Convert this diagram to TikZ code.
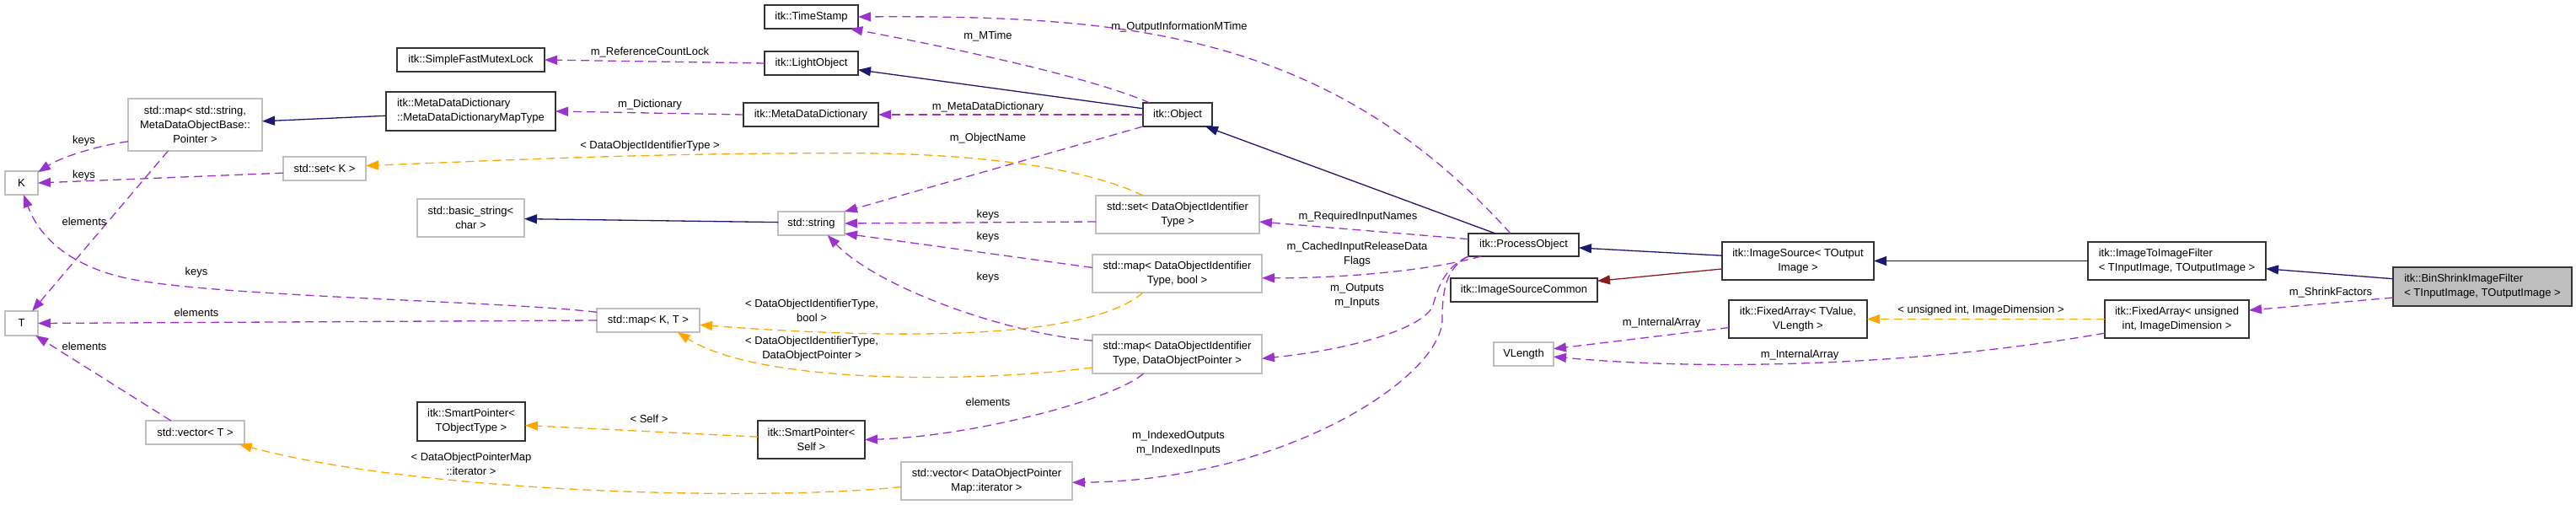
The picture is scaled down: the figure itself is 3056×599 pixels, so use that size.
\documentclass[tikz,border=0pt]{standalone}
\usepackage{fontspec}
\setmainfont{Liberation Sans}
\usetikzlibrary{arrows.meta}

\definecolor{inhblue}{HTML}{191970}
\definecolor{usepurple}{HTML}{9A32CD}
\definecolor{tplorange}{HTML}{FFA500}
\definecolor{privred}{HTML}{8B1A1A}
\definecolor{boxgray}{HTML}{BFBFBF}

\begin{document}
\begin{tikzpicture}[x=1pt, y=-1pt,
	every node/.style={font=\fontsize{13pt}{17pt}\selectfont, inner sep=0pt, outer sep=0pt},
	cls/.style={draw=black!80, line width=1.3pt, fill=white, align=center},
	ext/.style={cls, draw=boxgray},
	inh/.style={draw=inhblue, line width=1.3pt, -{Triangle[length=15pt, width=11pt]}},
	priv/.style={inh, draw=privred},
	use/.style={draw=usepurple, line width=1.3pt, dash pattern=on 10pt off 6pt, -{Triangle[length=15pt, width=11pt]}},
	tpl/.style={use, draw=tplorange}]
	\useasboundingbox (0,0) rectangle (3056,599);
	% classes
	\node[cls, minimum width=111pt, minimum height=28pt] (ts) at (962.5,20) {itk::TimeStamp};
	\node[cls, minimum width=175pt, minimum height=28pt] (sfml) at (558.5,71) {itk::SimpleFastMutexLock};
	\node[cls, minimum width=111pt, minimum height=28pt] (lo) at (962.5,75) {itk::LightObject};
	\node[ext, minimum width=159pt, minimum height=62pt] (mstr) at (231.5,148) {std::map< std::string,\\ MetaDataObjectBase::\\Pointer >};
	\node[cls, align=left, minimum width=201pt, minimum height=46pt] (mdmt) at (558.5,132) {itk::MetaDataDictionary\\::MetaDataDictionaryMapType};
	\node[cls, minimum width=160pt, minimum height=28pt] (mdd) at (962,136) {itk::MetaDataDictionary};
	\node[cls, minimum width=82pt, minimum height=28pt] (obj) at (1397,136) {itk::Object};
	\node[ext, minimum width=39pt, minimum height=28pt] (k) at (25.5,217) {K};
	\node[ext, minimum width=98pt, minimum height=28pt] (setk) at (385,200) {std::set< K >};
	\node[ext, minimum width=127pt, minimum height=45pt] (bstr) at (558.5,258.5) {std::basic\_string<\\char >};
	\node[ext, minimum width=79pt, minimum height=28pt] (str) at (962.5,265) {std::string};
	\node[ext, minimum width=194pt, minimum height=45pt] (setid) at (1397,254.5) {std::set< DataObjectIdentifier\\Type >};
	\node[ext, minimum width=201pt, minimum height=45pt] (mapbool) at (1396.5,324.5) {std::map< DataObjectIdentifier\\Type, bool >};
	\node[cls, minimum width=131pt, minimum height=27pt] (po) at (1807.5,290.5) {itk::ProcessObject};
	\node[cls, minimum width=174pt, minimum height=28pt] (isc) at (1808,344) {itk::ImageSourceCommon};
	\node[cls, minimum width=180pt, minimum height=45pt] (isrc) at (2133,309.5) {itk::ImageSource< TOutput\\Image >};
	\node[cls, align=left, minimum width=211pt, minimum height=45pt] (i2i) at (2582.5,309.5) {itk::ImageToImageFilter\\< TInputImage, TOutputImage >};
	\node[cls, align=left, fill=boxgray, minimum width=212pt, minimum height=46pt] (bsif) at (2945,340) {itk::BinShrinkImageFilter\\< TInputImage, TOutputImage >};
	\node[ext, minimum width=39pt, minimum height=29pt] (t) at (25.5,383.5) {T};
	\node[ext, minimum width=122pt, minimum height=28pt] (mapkt) at (769,380) {std::map< K, T >};
	\node[cls, minimum width=164pt, minimum height=45pt] (favl) at (2133,378.5) {itk::FixedArray< TValue,\\VLength >};
	\node[ext, minimum width=71pt, minimum height=28pt] (vlen) at (1807.5,420) {VLength};
	\node[cls, minimum width=171pt, minimum height=45pt] (fadim) at (2582.5,378.5) {itk::FixedArray< unsigned\\int, ImageDimension >};
	\node[ext, minimum width=201pt, minimum height=46pt] (mapptr) at (1396.5,420) {std::map< DataObjectIdentifier\\Type, DataObjectPointer >};
	\node[cls, minimum width=128pt, minimum height=46pt] (spobj) at (559,500) {itk::SmartPointer<\\TObjectType >};
	\node[ext, minimum width=117pt, minimum height=28pt] (vect) at (231.5,513) {std::vector< T >};
	\node[cls, minimum width=127pt, minimum height=45pt] (spself) at (962.5,521.5) {itk::SmartPointer<\\Self >};
	\node[ext, minimum width=203pt, minimum height=45pt] (vecit) at (1170.5,570.5) {std::vector< DataObjectPointer\\Map::iterator >};
	% inheritance
	\draw[inh] (obj.170) -- (lo.-8);
	\draw[inh] (po.158) -- (obj.-23);
	\draw[inh] (isrc.176) -- (po.-3);
	\draw[inh] (i2i.west) -- (isrc.east);
	\draw[inh] (bsif.175) -- (i2i.-5);
	\draw[inh] (mdmt.183) -- (mstr.3);
	\draw[inh] (str.178) -- (bstr.-1);
	\draw[priv] (isrc.186) -- (isc.7);
	% members
	\draw[use] (obj.157) .. controls (1290,90) and (1120,55) .. (ts.-17);
	\draw[use] (po.139) .. controls (1578,39) and (1338,18) .. (ts.east);
	\draw[use] (lo.west) -- (sfml.east);
	\draw[use] (mdd.west) -- (mdmt.east);
	\draw[use] (obj.west) -- (mdd.east);
	\draw[use] (obj.south west) -- (str.north east);
	\draw[use] (setid.185) -- (str.east);
	\draw[use] (mapbool.176) -- (str.-17);
	\draw[use] (mapptr.171) .. controls (1190,395) and (1040,340) .. (str.-36);
	\draw[use] (po.174) -- (setid.-5);
	\draw[use] (po.195) .. controls (1700,320) and (1600,330) .. (mapbool.-3);
	\draw[use] (po.south west) .. controls (1715,316) and (1706,340) .. (1700,362) .. controls (1690,390) and (1600,415) .. (mapptr.-3);
	\draw[use] (po.south west) .. controls (1715,318) and (1711,345) .. (1711,380) .. controls (1708,450) and (1520,570) .. (vecit.-1);
	\draw[use] (mapptr.210) .. controls (1320,475) and (1150,518) .. (spself.east);
	\draw[use] (mstr.194) .. controls (120,172) and (75,185) .. (k.33);
	\draw[use] (setk.186) -- (k.east);
	\draw[use] (mapkt.171) .. controls (600,357) and (250,352) .. (150,330) .. controls (95,318) and (50,290) .. (k.-80);
	\draw[use] (mapkt.west) -- (t.east);
	\draw[use] (mstr.224) -- (t.49);
	\draw[use] (vect.154) -- (t.-41);
	\draw[use] (favl.187) -- (vlen.10);
	\draw[use] (fadim.191) .. controls (2300,430) and (2050,442) .. (vlen.-5);
	\draw[use] (bsif.187) -- (fadim.7);
	% template arguments
	\draw[tpl] (setid.151) .. controls (1300,205) and (1200,186) .. (1050,182) .. controls (800,180) and (600,190) .. (setk.4);
	\draw[tpl] (mapbool.209) .. controls (1290,405) and (1050,402) .. (mapkt.-5);
	\draw[tpl] (mapptr.189) .. controls (1150,455) and (900,455) .. (mapkt.-22);
	\draw[tpl] (spself.177) -- (spobj.-4);
	\draw[tpl] (vecit.184) .. controls (900,595) and (500,585) .. (vect.-15);
	\draw[tpl] (fadim.west) -- (favl.east);
	% labels
	\node (lmtime) at (1172,43) {m\_MTime};
	\node (loutinfo) at (1399,32) {m\_OutputInformationMTime};
	\node (lrefcnt) at (771,62) {m\_ReferenceCountLock};
	\node (ldict) at (771,124) {m\_Dictionary};
	\node (lmdd) at (1172,127) {m\_MetaDataDictionary};
	\node (lname) at (1172,164) {m\_ObjectName};
	\node (lsetid) at (771,173) {< DataObjectIdentifierType >};
	\node (lkeysa) at (1172,255) {keys};
	\node (lkeysb) at (1172,281) {keys};
	\node (lkeysc) at (1172,329) {keys};
	\node (lreq) at (1611,257) {m\_RequiredInputNames};
	\node[align=center] (lcached) at (1610,302) {m\_CachedInputReleaseData\\Flags};
	\node[align=center] (lio) at (1610,351) {m\_Outputs\\m\_Inputs};
	\node (lelemself) at (1172,477) {elements};
	\node[align=center] (lindexed) at (1398,526) {m\_IndexedOutputs\\m\_IndexedInputs};
	\node (lkeysk) at (99.5,167) {keys};
	\node (lkeyssk) at (99.5,208) {keys};
	\node (lelemms) at (100,263) {elements};
	\node (lkeysmkt) at (233,323) {keys};
	\node (lelemmkt) at (233,371) {elements};
	\node (lelemvt) at (100,411) {elements};
	\node[align=center] (lbool) at (963,368.5) {< DataObjectIdentifierType,\\bool >};
	\node[align=center] (lptr) at (963,414) {< DataObjectIdentifierType,\\DataObjectPointer >};
	\node (lself) at (770,497) {< Self >};
	\node[align=center] (liter) at (559,550.5) {< DataObjectPointerMap\\::iterator >};
	\node (linta) at (1971,383) {m\_InternalArray};
	\node (ldim) at (2350,368) {< unsigned int, ImageDimension >};
	\node (lintb) at (2135,421) {m\_InternalArray};
	\node (lshrink) at (2765,347) {m\_ShrinkFactors};
\end{tikzpicture}
\end{document}
